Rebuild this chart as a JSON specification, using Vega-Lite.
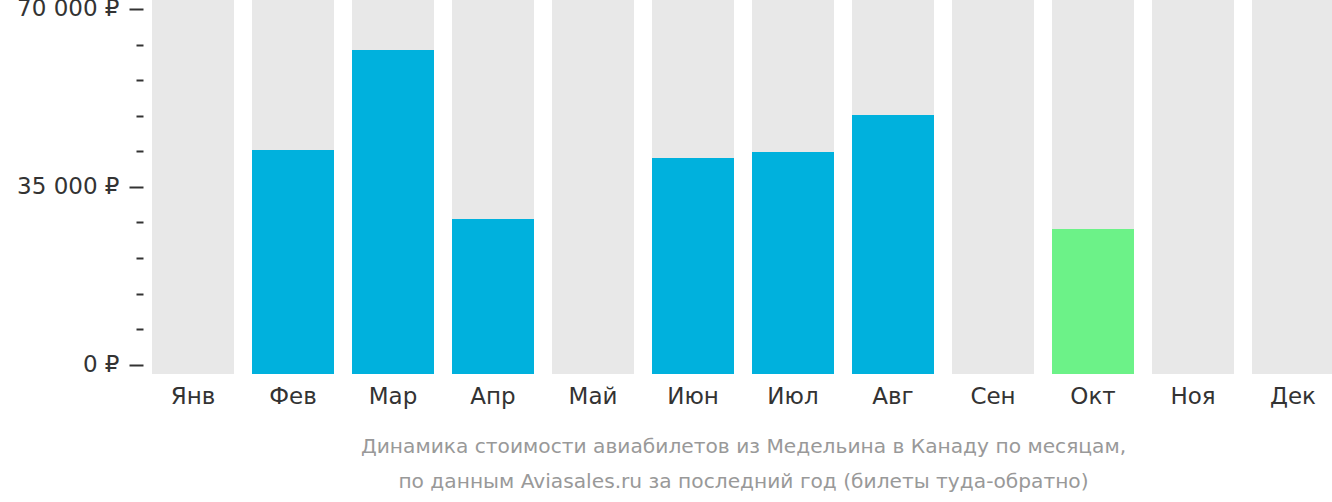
{
  "$schema": "https://vega.github.io/schema/vega-lite/v6.json",
  "width": 1182,
  "height": 374,
  "autosize": {"type": "none"},
  "padding": {"left": 152, "top": 0, "right": 0, "bottom": 128},
  "background": "white",
  "config": {"view": {"stroke": null}, "font": "DejaVu Sans"},
  "data": {
    "values": [
      {"month": "Янв", "price": null, "kind": "none"},
      {"month": "Фев", "price": 42250, "kind": "regular"},
      {"month": "Мар", "price": 61930, "kind": "regular"},
      {"month": "Апр", "price": 28670, "kind": "regular"},
      {"month": "Май", "price": null, "kind": "none"},
      {"month": "Июн", "price": 40680, "kind": "regular"},
      {"month": "Июл", "price": 41860, "kind": "regular"},
      {"month": "Авг", "price": 49140, "kind": "regular"},
      {"month": "Сен", "price": null, "kind": "none"},
      {"month": "Окт", "price": 26700, "kind": "cheapest"},
      {"month": "Ноя", "price": null, "kind": "none"},
      {"month": "Дек", "price": null, "kind": "none"}
    ]
  },
  "encoding": {
    "x": {
      "field": "month",
      "type": "nominal",
      "sort": null,
      "scale": {"paddingInner": 0.18, "paddingOuter": 0},
      "axis": {
        "labelAngle": 0,
        "labelFont": "DejaVu Sans",
        "labelFontSize": 23,
        "labelColor": "#333333",
        "labelPadding": 11,
        "domain": false,
        "ticks": false,
        "title": ["Динамика стоимости авиабилетов из Медельина в Канаду по месяцам,", "по данным Aviasales.ru за последний год (билеты туда-обратно)"],
        "titleFont": "DejaVu Sans",
        "titleFontSize": 20.2,
        "titleFontWeight": "normal",
        "titleColor": "#999999",
        "titleLineHeight": 35,
        "titlePadding": 28
      }
    }
  },
  "layer": [
    {
      "mark": {"type": "bar", "color": "#e8e8e8"},
      "encoding": {
        "y": {
          "datum": 71771,
          "type": "quantitative",
          "scale": {"domain": [-1830, 71771], "nice": false, "zero": false},
          "axis": {
            "values": [0, 35000, 70000],
            "labelExpr": "replace(format(datum.value, ','), ',', ' ') + ' ₽'",
            "labelFont": "DejaVu Sans",
            "labelFontSize": 23,
            "labelColor": "#333333",
            "labelPadding": 10,
            "tickSize": 14,
            "tickWidth": 2,
            "tickColor": "#333333",
            "offset": 9,
            "domain": false,
            "grid": false,
            "title": null,
            "orient": "left"
          }
        },
        "y2": {"datum": -1830}
      }
    },
    {
      "transform": [{"filter": "isValid(datum.price)"}],
      "mark": {"type": "bar"},
      "encoding": {
        "y": {
          "field": "price",
          "type": "quantitative",
          "axis": {
            "values": [7000, 14000, 21000, 28000, 42000, 49000, 56000, 63000],
            "labels": false,
            "tickSize": 7,
            "tickWidth": 2,
            "tickColor": "#333333",
            "offset": 9,
            "domain": false,
            "grid": false,
            "title": null,
            "orient": "left"
          }
        },
        "y2": {"datum": -1830},
        "color": {
          "field": "kind",
          "type": "nominal",
          "scale": {"domain": ["regular", "cheapest"], "range": ["#00b1dd", "#6cf288"]},
          "legend": null
        }
      }
    }
  ],
  "resolve": {"axis": {"y": "independent"}}
}
